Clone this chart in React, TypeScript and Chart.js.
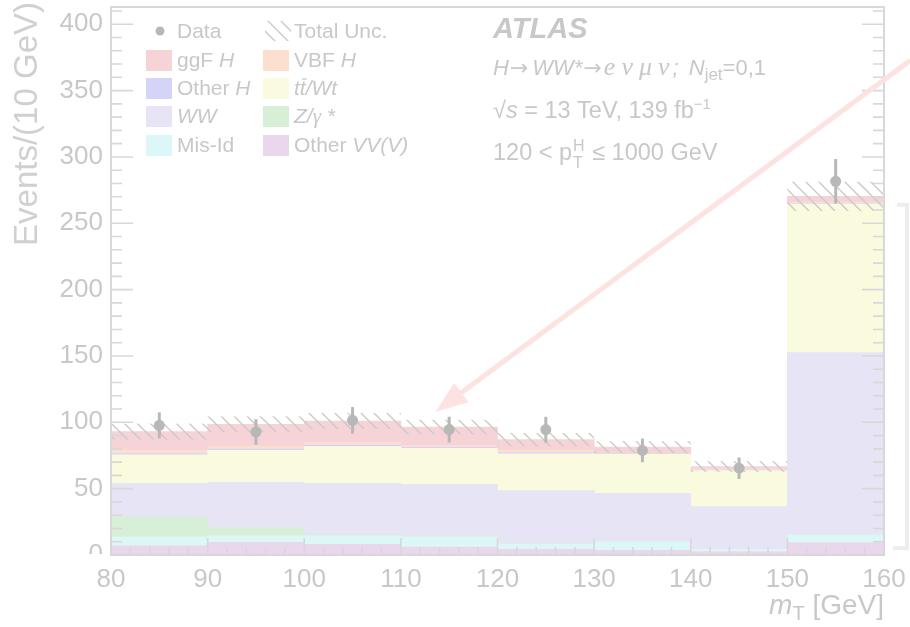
import React, { useEffect, useRef } from 'react';
import { Chart, registerables } from 'chart.js';

Chart.register(...registerables);

// ---------------- data ----------------
const binEdges = [80, 90, 100, 110, 120, 130, 140, 150, 160];
const binCenters = [85, 95, 105, 115, 125, 135, 145, 155];

// stacked backgrounds, bottom to top
const otherVV = [7, 9.5, 8, 6, 4.3, 3.5, 2.5, 9.3];
const misId = [6.6, 4.9, 6.4, 7.6, 4, 6.5, 1.8, 5.9];
const zGamma = [15.4, 6.3, 1.2, 0.8, 0.4, 0.3, 0.2, 0.3];
const wwBkg = [25, 34.1, 38.4, 38.9, 39.8, 36.2, 31.9, 137];
const ttWt = [21.5, 24, 27.8, 27, 27.8, 29.3, 27.2, 112];
const otherH = [1, 1, 1, 0.8, 0.8, 0.5, 0.4, 0.4];
const vbfH = [2.5, 2, 2.2, 1.3, 1.7, 0.5, 1.0, 0.9];
const ggfH = [14, 16.7, 16, 14, 8.1, 4.5, 1.7, 4.5];

// total uncertainty (half width of hatched band)
const totalUnc = [6, 6, 6, 5.5, 5, 4.5, 4, 11];

// observed data
const dataValues = [97.7, 92.7, 101.5, 94.5, 94.5, 78.8, 65.4, 281.6];
const dataErrors = [9.8, 9.6, 10, 9.7, 9.7, 8.9, 8.1, 16.8];

const xTicks = [80, 90, 100, 110, 120, 130, 140, 150, 160];
const yTicks = [0, 50, 100, 150, 200, 250, 300, 350, 400];
const yMax = 413;

// annotation arrow (data coordinates) and bracket range
const arrowFrom = [162.7, 372.7];
const arrowTo = [113.6, 108];
const bracketRange = [264, 5];

// ---------------- styles ----------------
const FONT = "'Liberation Sans', Arial, Helvetica, sans-serif";
const SERIF = "'Liberation Serif', 'DejaVu Serif', serif";
const ARROWFONT = "'DejaVu Sans', sans-serif";
const TEXT = '#c8c8c8';
const AXIS = '#d8d8d8';

const colOtherVV = '#e9d8ec';
const colMisId = '#ddf7f9';
const colZ = '#d7eed7';
const colWW = '#e6e4f5';
const colTT = '#fafadf';
const colOtherH = '#d4d4f9';
const colVBF = '#fcdfcf';
const colGGF = '#f5d3d7';
const colData = '#b8b8b8';
const colHatch = '#cacaca';
const colArrow = '#fde2e2';

const stackDefs = [
  { label: 'Other VV(V)', data: otherVV, color: colOtherVV },
  { label: 'Mis-Id', data: misId, color: colMisId },
  { label: 'Z/γ*', data: zGamma, color: colZ },
  { label: 'WW', data: wwBkg, color: colWW },
  { label: 'tt/Wt', data: ttWt, color: colTT },
  { label: 'Other H', data: otherH, color: colOtherH },
  { label: 'VBF H', data: vbfH, color: colVBF },
  { label: 'ggF H', data: ggfH, color: colGGF },
];

type Run = { t: string; font: string; dy?: number; over?: boolean; gap?: number };

function drawRuns(ctx: CanvasRenderingContext2D, x: number, y: number, runs: Run[]) {
  let cx = x;
  for (const r of runs) {
    ctx.font = r.font;
    ctx.fillText(r.t, cx, y + (r.dy || 0));
    const w = ctx.measureText(r.t).width;
    if (r.over) {
      ctx.save();
      ctx.strokeStyle = ctx.fillStyle as string;
      ctx.lineWidth = 1.3;
      ctx.beginPath();
      ctx.moveTo(cx + 2, y - 16);
      ctx.lineTo(cx + w + 1, y - 16);
      ctx.stroke();
      ctx.restore();
    }
    cx += w + (r.gap || 0);
  }
  return cx;
}

function makeHatch(ctx: CanvasRenderingContext2D) {
  const s = 13;
  const c = document.createElement('canvas');
  c.width = s;
  c.height = s;
  const g = c.getContext('2d')!;
  g.strokeStyle = colHatch;
  g.lineWidth = 1.4;
  g.beginPath();
  g.moveTo(-2, -2);
  g.lineTo(s + 2, s + 2);
  g.moveTo(-2, s - 2);
  g.lineTo(2, s + 2);
  g.moveTo(s - 2, -2);
  g.lineTo(s + 2, 2);
  g.stroke();
  return ctx.createPattern(c, 'repeat')!;
}

const atlasPlugin = {
  id: 'atlasDecor',
  beforeDatasetDraw(chart: any, args: any) {
    if (args.index !== 0) return;
    const ctx: CanvasRenderingContext2D = chart.ctx;
    const xs = chart.scales.x;
    const ys = chart.scales.y;
    const area = chart.chartArea;
    // hatched total uncertainty band
    ctx.save();
    ctx.beginPath();
    ctx.rect(area.left, area.top, area.right - area.left, area.bottom - area.top);
    ctx.clip();
    ctx.fillStyle = makeHatch(ctx);
    for (let i = 0; i < binCenters.length; i++) {
      let tot = 0;
      for (const d of stackDefs) tot += d.data[i];
      const x0 = xs.getPixelForValue(binEdges[i]);
      const x1 = xs.getPixelForValue(binEdges[i + 1]);
      const y0 = ys.getPixelForValue(tot + totalUnc[i]);
      const y1 = ys.getPixelForValue(tot - totalUnc[i]);
      ctx.fillRect(x0, y0, x1 - x0, y1 - y0);
    }
    // error bars
    ctx.strokeStyle = colData;
    ctx.lineWidth = 3;
    for (let i = 0; i < binCenters.length; i++) {
      const x = xs.getPixelForValue(binCenters[i]);
      ctx.beginPath();
      ctx.moveTo(x, ys.getPixelForValue(dataValues[i] + dataErrors[i]));
      ctx.lineTo(x, ys.getPixelForValue(dataValues[i] - dataErrors[i]));
      ctx.stroke();
    }
    ctx.restore();
  },
  afterDatasetsDraw(chart: any) {
    const ctx: CanvasRenderingContext2D = chart.ctx;
    const xs = chart.scales.x;
    const ys = chart.scales.y;
    const a = chart.chartArea;
    ctx.save();
    // frame
    ctx.strokeStyle = AXIS;
    ctx.lineWidth = 2;
    ctx.strokeRect(a.left, a.top, a.right - a.left, a.bottom - a.top);
    // y ticks (left & right)
    ctx.lineWidth = 1.6;
    ctx.beginPath();
    for (let v = 0; v <= yMax; v += 10) {
      const y = ys.getPixelForValue(v);
      const len = v % 50 === 0 ? 22 : 11;
      ctx.moveTo(a.left, y);
      ctx.lineTo(a.left + len, y);
      ctx.moveTo(a.right, y);
      ctx.lineTo(a.right - len, y);
    }
    // x ticks (bottom)
    for (let v = 80; v <= 160; v += 2) {
      const x = xs.getPixelForValue(v);
      const len = v % 10 === 0 ? 17 : 8;
      ctx.moveTo(x, a.bottom);
      ctx.lineTo(x, a.bottom - len);
    }
    ctx.stroke();
    ctx.restore();
  },
  afterDraw(chart: any) {
    const ctx: CanvasRenderingContext2D = chart.ctx;
    const xs = chart.scales.x;
    const ys = chart.scales.y;
    const a = chart.chartArea;
    ctx.save();
    // hide lower half of the "0" label, as in the reference
    ctx.fillStyle = '#ffffff';
    ctx.fillRect(60, a.bottom - 1, a.left - 62, 9);

    ctx.fillStyle = TEXT;
    ctx.textBaseline = 'alphabetic';
    ctx.textAlign = 'left';

    // y title
    ctx.save();
    ctx.translate(37, 2);
    ctx.rotate(-Math.PI / 2);
    ctx.textAlign = 'right';
    ctx.font = `33px ${FONT}`;
    ctx.fillStyle = '#d0d0d0';
    ctx.fillText('Events/(10 GeV)', 0, 0);
    ctx.restore();

    // x title
    {
      const f = 28;
      const runs: Run[] = [
        { t: 'm', font: `italic ${f}px ${FONT}` },
        { t: 'T', font: `${Math.round(f * 0.7)}px ${FONT}`, dy: 6 },
        { t: ' [GeV]', font: `${f}px ${FONT}` },
      ];
      let w = 0;
      for (const r of runs) {
        ctx.font = r.font;
        w += ctx.measureText(r.t).width;
      }
      drawRuns(ctx, a.right - w, 614, runs);
    }

    // ATLAS labels
    const tx = 493;
    ctx.font = `italic bold 29px ${FONT}`;
    ctx.fillText('ATLAS', tx, 38);
    const f2 = 22;
    const f3 = 23.5;
    const gf = 26;
    drawRuns(ctx, tx, 75, [
      { t: 'H', font: `italic ${f2}px ${FONT}`, gap: 1 },
      { t: '→', font: `${f2}px ${ARROWFONT}`, gap: 4 },
      { t: 'WW*', font: `italic ${f2}px ${FONT}`, gap: 1 },
      { t: '→', font: `${f2}px ${ARROWFONT}`, gap: 2 },
      { t: 'e', font: `italic ${gf}px ${SERIF}`, gap: 6 },
      { t: 'ν', font: `italic ${gf}px ${SERIF}`, gap: 6 },
      { t: 'μ', font: `italic ${gf}px ${SERIF}`, gap: 6 },
      { t: 'ν', font: `italic ${gf}px ${SERIF}`, gap: 3 },
      { t: '; ', font: `italic ${f2}px ${FONT}`, gap: 4 },
      { t: 'N', font: `italic ${f2}px ${FONT}` },
      { t: 'jet', font: `17px ${FONT}`, dy: 5 },
      { t: '=0,1', font: `${f2}px ${FONT}` },
    ]);
    drawRuns(ctx, tx, 118, [
      { t: '√', font: `${f3}px ${FONT}` },
      { t: 's', font: `italic ${f3}px ${FONT}` },
      { t: ' = 13 TeV, 139 fb', font: `${f3}px ${FONT}` },
      { t: '−1', font: `${Math.round(f3 * 0.62)}px ${FONT}`, dy: -9 },
    ]);
    {
      let x = drawRuns(ctx, tx, 160, [{ t: '120 < p', font: `${f3}px ${FONT}` }]);
      ctx.font = `${Math.round(f3 * 0.68)}px ${FONT}`;
      ctx.fillText('H', x + 1, 151);
      ctx.fillText('T', x + 1, 168);
      const sw = Math.max(ctx.measureText('H').width, ctx.measureText('T').width);
      drawRuns(ctx, x + sw + 2, 160, [{ t: ' ≤ 1000 GeV', font: `${f3}px ${FONT}` }]);
    }

    // legend
    const lf = 21;
    const rowY = [31, 60, 88, 116, 145];
    const colBox = [146, 263];
    const colText = [177, 294];
    const hatch = makeHatch(ctx);
    // Data
    ctx.fillStyle = colData;
    ctx.beginPath();
    ctx.arc(160, rowY[0], 4.5, 0, Math.PI * 2);
    ctx.fill();
    ctx.fillStyle = TEXT;
    const textY = (r: number) => rowY[r] + 7;
    drawRuns(ctx, colText[0], textY(0), [{ t: 'Data', font: `${lf}px ${FONT}` }]);
    // Total Unc.
    ctx.save();
    ctx.beginPath();
    ctx.rect(colBox[1] + 2, rowY[0] - 10, 26, 20);
    ctx.clip();
    ctx.fillStyle = hatch;
    ctx.fillRect(colBox[1] + 2, rowY[0] - 10, 26, 20);
    ctx.restore();
    ctx.fillStyle = TEXT;
    drawRuns(ctx, colText[1], textY(0), [{ t: 'Total Unc.', font: `${lf}px ${FONT}` }]);

    const entries: { c: number; r: number; color: string; runs: Run[] }[] = [
      { c: 0, r: 1, color: colGGF, runs: [{ t: 'ggF ', font: `${lf}px ${FONT}` }, { t: 'H', font: `italic ${lf}px ${FONT}` }] },
      { c: 1, r: 1, color: colVBF, runs: [{ t: 'VBF ', font: `${lf}px ${FONT}` }, { t: 'H', font: `italic ${lf}px ${FONT}` }] },
      { c: 0, r: 2, color: colOtherH, runs: [{ t: 'Other ', font: `${lf}px ${FONT}` }, { t: 'H', font: `italic ${lf}px ${FONT}` }] },
      {
        c: 1, r: 2, color: colTT, runs: [
          { t: 't', font: `italic ${lf}px ${FONT}` },
          { t: 't', font: `italic ${lf}px ${FONT}`, over: true },
          { t: '/Wt', font: `italic ${lf}px ${FONT}` },
        ],
      },
      { c: 0, r: 3, color: colWW, runs: [{ t: 'WW', font: `italic ${lf}px ${FONT}` }] },
      { c: 1, r: 3, color: colZ, runs: [{ t: 'Z/', font: `italic ${lf}px ${FONT}` }, { t: 'γ', font: `italic ${lf}px ${SERIF}` }, { t: ' *', font: `italic ${lf}px ${FONT}` }] },
      { c: 0, r: 4, color: colMisId, runs: [{ t: 'Mis-Id', font: `${lf}px ${FONT}` }] },
      { c: 1, r: 4, color: colOtherVV, runs: [{ t: 'Other ', font: `${lf}px ${FONT}` }, { t: 'VV(V)', font: `italic ${lf}px ${FONT}` }] },
    ];
    for (const e of entries) {
      ctx.fillStyle = e.color;
      ctx.fillRect(colBox[e.c], rowY[e.r] - 10, 26, 21);
      ctx.fillStyle = TEXT;
      drawRuns(ctx, colText[e.c], textY(e.r), e.runs);
    }

    // bracket on the right
    ctx.strokeStyle = '#ededed';
    ctx.lineWidth = 4;
    const bt = ys.getPixelForValue(bracketRange[0]);
    const bb = ys.getPixelForValue(bracketRange[1]);
    ctx.beginPath();
    ctx.moveTo(a.right + 13, bt);
    ctx.lineTo(a.right + 23, bt);
    ctx.lineTo(a.right + 23, bb);
    ctx.lineTo(a.right + 9, bb);
    ctx.stroke();

    // arrow
    const x0 = xs.getPixelForValue(arrowFrom[0]);
    const y0 = ys.getPixelForValue(arrowFrom[1]);
    const x1 = xs.getPixelForValue(arrowTo[0]);
    const y1 = ys.getPixelForValue(arrowTo[1]);
    const ang = Math.atan2(y1 - y0, x1 - x0);
    const hl = 32;
    const hw = 12;
    ctx.strokeStyle = colArrow;
    ctx.fillStyle = colArrow;
    ctx.lineWidth = 5;
    ctx.lineCap = 'butt';
    ctx.beginPath();
    ctx.moveTo(x0, y0);
    ctx.lineTo(x1 - Math.cos(ang) * hl * 0.8, y1 - Math.sin(ang) * hl * 0.8);
    ctx.stroke();
    const bx = x1 - Math.cos(ang) * hl;
    const by = y1 - Math.sin(ang) * hl;
    ctx.beginPath();
    ctx.moveTo(x1, y1);
    ctx.lineTo(bx + Math.sin(ang) * hw, by - Math.cos(ang) * hw);
    ctx.lineTo(bx - Math.sin(ang) * hw, by + Math.cos(ang) * hw);
    ctx.closePath();
    ctx.fill();
    ctx.restore();
  },
};

export default function App() {
  const ref = useRef<HTMLCanvasElement | null>(null);
  useEffect(() => {
    if (!ref.current) return;
    const datasets: any[] = [
      {
        type: 'line',
        label: 'Data',
        data: binCenters.map((x, i) => ({ x, y: dataValues[i] })),
        showLine: false,
        pointRadius: 5.5,
        pointHoverRadius: 5.5,
        pointBackgroundColor: colData,
        pointBorderWidth: 0,
        borderColor: colData,
        stack: 'data',
      },
      ...stackDefs.map((d) => ({
        type: 'bar',
        label: d.label,
        data: binCenters.map((x, i) => ({ x, y: d.data[i] })),
        backgroundColor: d.color,
        borderWidth: 0,
        barPercentage: 1,
        categoryPercentage: 1,
        stack: 'mc',
      })),
    ];
    const chart = new Chart(ref.current, {
      type: 'bar',
      data: { datasets },
      options: {
        animation: false,
        responsive: false,
        devicePixelRatio: 1,
        events: [],
        layout: { padding: { left: 0, right: 26, top: 7, bottom: 0 } },
        plugins: { legend: { display: false }, tooltip: { enabled: false } },
        scales: {
          x: {
            type: 'linear',
            stacked: true,
            offset: false,
            min: 80,
            max: 160,
            grid: { display: false, drawTicks: false, offset: false },
            border: { display: false },
            afterBuildTicks: (s: any) => {
              s.ticks = xTicks.map((v) => ({ value: v }));
            },
            afterFit: (s: any) => {
              s.height = 72;
              s.paddingLeft = 0;
              s.paddingRight = 0;
            },
            ticks: {
              color: TEXT,
              font: { family: FONT, size: 26 },
              padding: 9,
              maxRotation: 0,
              autoSkip: false,
            },
          },
          y: {
            type: 'linear',
            stacked: true,
            min: 0,
            max: yMax,
            grid: { display: false, drawTicks: false },
            border: { display: false },
            afterBuildTicks: (s: any) => {
              s.ticks = yTicks.map((v) => ({ value: v }));
            },
            afterFit: (s: any) => {
              s.width = 111;
              s.paddingTop = 0;
              s.paddingBottom = 0;
            },
            ticks: {
              color: TEXT,
              font: { family: FONT, size: 26 },
              padding: 8,
              autoSkip: false,
            },
          },
        },
      },
      plugins: [atlasPlugin],
    } as any);
    return () => chart.destroy();
  }, []);
  return (
    <div style={{ position: 'fixed', left: 0, top: 0, width: 910, height: 627, background: '#ffffff' }}>
      <canvas ref={ref} width={910} height={627} style={{ display: 'block', width: 910, height: 627 }} />
    </div>
  );
}
